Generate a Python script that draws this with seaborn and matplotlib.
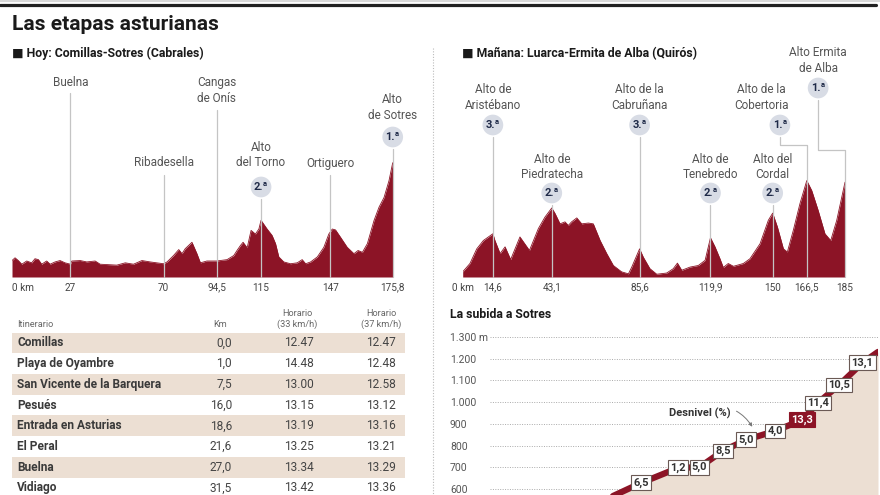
import matplotlib
matplotlib.use("Agg")
import matplotlib.pyplot as plt
import matplotlib.transforms as mtransforms
from matplotlib.lines import Line2D
from matplotlib import font_manager as fm
import seaborn as sns

# --- etapa de hoy: Comillas-Sotres (km, altitud m) ---
hoy_km = [0, 1.4, 2.9, 4.5, 6.8, 9.1, 10.6, 12.2, 13.7, 16.0,
          17.6, 19.9, 22.2, 24.5, 27.0, 27.6, 31.5, 34.5, 38.4, 40.7,
          48.4, 52.3, 56.1, 60.0, 63.8, 70.0, 71.6, 74.6, 77.0, 78.5,
          80.0, 83.1, 85.4, 87.0, 90.0, 94.5, 99.3, 102.4, 103.9, 105.5,
          106.7, 108.6, 110.4, 112.4, 114.0, 115.0, 117.8, 120.1, 121.7, 123.2,
          125.5, 128.6, 131.7, 134.0, 135.6, 137.9, 141.0, 144.0, 146.3, 147.9,
          149.4, 151.7, 154.8, 157.9, 159.8, 161.8, 164.1, 167.2, 169.5, 171.8,
          174.1, 175.8]
hoy_m = [180, 210, 180, 140, 175, 155, 200, 190, 140, 175,
         140, 165, 180, 155, 140, 175, 180, 165, 175, 140,
         130, 155, 140, 180, 165, 145, 165, 235, 300, 255,
         310, 380, 255, 155, 175, 175, 190, 235, 290, 345,
         380, 320, 510, 470, 525, 620, 525, 455, 365, 220,
         165, 145, 155, 190, 145, 165, 220, 325, 470, 525,
         515, 435, 325, 255, 290, 270, 365, 620, 765, 870,
         1055, 1250]
hoy_ticks = [0, 27, 70, 94.5, 115, 147, 175.8]
hoy_ticklabels = ['0 km', '27', '70', '94,5', '115', '147', '175,8']
hoy_puntos = ['Buelna', 'Ribadesella', 'Cangas\nde Onís', 'Alto\ndel Torno', 'Ortiguero', 'Alto\nde Sotres']
hoy_puntos_km = [27, 70, 94.5, 115, 147, 175.8]
hoy_categoria = [None, None, None, '2.ª', None, '1.ª']

# --- etapa de mañana: Luarca-Ermita de Alba ---
man_km = [0, 3.5, 6.8, 10.0, 14.6, 15.6, 18.1, 20.5, 23.2, 27.7,
          32.3, 36.6, 39.8, 43.1, 44.7, 47.1, 49.5, 51.1, 52.7, 55.2,
          57.6, 60.8, 63.2, 66.5, 69.7, 72.9, 76.9, 80.2, 81.8, 85.6,
          87.4, 90.6, 93.9, 98.7, 101.9, 103.9, 106.0, 110.0, 114.0, 117.3,
          119.9, 122.1, 124.5, 126.1, 128.5, 131.0, 135.8, 139.0, 143.9, 147.9,
          150.0, 152.3, 155.2, 157.1, 160.0, 163.2, 166.5, 168.9, 172.0, 175.3,
          178.1, 181.0, 185.0]
man_m = [65, 170, 355, 460, 545, 460, 295, 380, 220, 505,
         335, 610, 755, 870, 800, 670, 695, 650, 695, 745,
         670, 680, 670, 460, 295, 145, 65, 40, 125, 355,
         250, 105, 35, 50, 105, 175, 85, 125, 145, 210,
         495, 380, 230, 120, 170, 135, 170, 230, 420, 715,
         805, 630, 355, 315, 590, 925, 1215, 1090, 840, 545,
         460, 715, 1195]
man_ticks = [0, 14.6, 43.1, 85.6, 119.9, 150, 166.5, 185]
man_ticklabels = ['0 km', '14,6', '43,1', '85,6', '119,9', '150', '166,5', '185']
man_puntos = ['Alto de\nAristébano', 'Alto de\nPiedratecha', 'Alto de la\nCabruñana', 'Alto de\nTenebredo',
              'Alto del\nCordal', 'Alto de la\nCobertoria', 'Alto Ermita\nde Alba']
man_puntos_km = [14.6, 43.1, 85.6, 119.9, 150, 166.5, 185]
man_categoria = ['3.ª', '2.ª', '3.ª', '2.ª', '2.ª', '1.ª', '1.ª']

# --- horario ---
tabla_lugar = ['Comillas', 'Playa de Oyambre', 'San Vicente de la Barquera', 'Pesués',
               'Entrada en Asturias', 'El Peral', 'Buelna', 'Vidiago']
tabla_km = ['0,0', '1,0', '7,5', '16,0', '18,6', '21,6', '27,0', '31,5']
tabla_h33 = ['12.47', '14.48', '13.00', '13.15', '13.19', '13.25', '13.34', '13.42']
tabla_h37 = ['12.47', '12.48', '12.58', '13.12', '13.16', '13.21', '13.29', '13.36']

# --- la subida a Sotres ---
subida_km = [2.6, 3.9, 4.85, 5.4, 6.0, 6.6, 7.35, 8.05, 8.45, 9.0, 9.6, 10.0]
subida_m = [520, 628, 697, 700, 775, 826, 867, 918, 996, 1079, 1181, 1231]
subida_pct = [None, '6,5', '1,2', '5,0', '8,5', '5,0', '4,0', '13,3', '11,4', '10,5', '13,1', None]
subida_yticks = [600, 700, 800, 900, 1000, 1100, 1200, 1300]
subida_yticklabels = ['600', '700', '800', '900', '1.000', '1.100', '1.200', '1.300 m']

RED = '#8c1426'
BEIGE = '#ecdfd3'
GREY = '#555555'
BADGE = '#d8dce5'
NAVY = '#1f2a48'

sns.set_theme(style="white")
names = {f.name for f in fm.fontManager.ttflist}
FONT = 'Liberation Sans Narrow' if 'Liberation Sans Narrow' in names else 'Roboto'
plt.rcParams['font.family'] = [FONT, 'DejaVu Sans']

W, H = 880, 495
fig = plt.figure(figsize=(8.8, 4.95), dpi=100)
PX = mtransforms.Affine2D().scale(1 / W, -1 / H).translate(0, 1) + fig.transFigure


def px_axes(x0, y0, x1, y1):
    return fig.add_axes([x0 / W, 1 - y1 / H, (x1 - x0) / W, (y1 - y0) / H])


# header
fig.add_artist(Line2D([0, 880], [1, 1], transform=PX, color='#d9d9d9', lw=1.5))
fig.add_artist(Line2D([0, 876], [4.5, 4.5], transform=PX, color='#222222', lw=2.3))
fig.add_artist(Line2D([433, 433], [48, 495], transform=PX, color='#bbbbbb', lw=0.8, ls=(0, (1, 1.5))))
fig.text(12, 24, 'Las etapas asturianas', transform=PX, fontsize=15, fontweight='bold',
         color='#1a1a1a', va='center')
fig.text(12, 53, '■ Hoy: Comillas-Sotres (Cabrales)', transform=PX, fontsize=8.8,
         fontweight='bold', color='#1a1a1a', va='center')
fig.text(462, 54, '■ Mañana: Luarca-Ermita de Alba (Quirós)', transform=PX, fontsize=8.8,
         fontweight='bold', color='#1a1a1a', va='center')


def profile(ax, km, m, top, ticks, ticklabels):
    ax.fill_between(km, m, 0, color=RED, lw=0, zorder=2)
    sns.lineplot(x=km, y=m, ax=ax, color=RED, lw=0.6, zorder=2)
    ax.set_xlim(km[0], km[-1])
    ax.set_ylim(0, top)
    ax.set_xticks(ticks)
    ax.set_xticklabels(ticklabels)
    ax.set_yticks([])
    ax.set_xlabel('')
    ax.set_ylabel('')
    ax.tick_params(axis='x', length=0, pad=4, labelsize=7.2, labelcolor='#444444')
    sns.despine(ax=ax, left=True, bottom=True)
    ax.patch.set_alpha(0)
    return mtransforms.blended_transform_factory(ax.transData, PX)


def badge(ax, tr, x, y, txt):
    ax.text(x, y, txt, transform=tr, ha='center', va='center', fontsize=8, fontweight='bold',
            color=NAVY, clip_on=False, zorder=6,
            bbox=dict(boxstyle='circle,pad=0.28', fc=BADGE, ec='none'))


def label(ax, tr, x, y, txt):
    ax.text(x, y, txt, transform=tr, ha='center', va='center', fontsize=8.5, color=GREY,
            linespacing=1.25, clip_on=False, zorder=6)


def vline(ax, tr, xs, ys):
    ax.plot(xs, ys, transform=tr, color='#c4c4c4', lw=0.9, clip_on=False, zorder=4)


# left profile
BASE = 277
ax1 = px_axes(12, 160, 392.7, BASE)
tr1 = profile(ax1, hoy_km, hoy_m, 1280, hoy_ticks, hoy_ticklabels)
ax1.get_xticklabels()[0].set_ha('left')
hoy_label_y = [83, 163, 90.5, 155, 163, 107.5]
hoy_badge_y = [None, None, None, 187, None, 137]
hoy_line_top = [93, 175, 110, 199, 175, 149]
for k, txt, cat, ly, by, lt in zip(hoy_puntos_km, hoy_puntos, hoy_categoria,
                                   hoy_label_y, hoy_badge_y, hoy_line_top):
    label(ax1, tr1, k, ly, txt)
    if cat:
        badge(ax1, tr1, k, by, cat)
    vline(ax1, tr1, [k, k], [lt, BASE])

# right profile
ax2 = px_axes(462.7, 176, 845, BASE)
tr2 = profile(ax2, man_km, man_m, 1273, man_ticks, man_ticklabels)
man_label_y = [97.5, 167, 97.5, 167, 167, 97.5, 60.5]
man_badge_y = [125, 193, 125, 193, 193, 125, 88]
man_line_top = [137, 205, 137, 205, 205, 137, 100]
man_label_x = [None, None, None, None, None, 144.7, 172]
man_badge_x = [None, None, None, None, None, 153.5, 172]
man_elbow_y = [None, None, None, None, None, 145, 150]
for i, (k, txt, cat) in enumerate(zip(man_puntos_km, man_puntos, man_categoria)):
    lx = man_label_x[i] if man_label_x[i] is not None else k
    bx = man_badge_x[i] if man_badge_x[i] is not None else k
    label(ax2, tr2, lx, man_label_y[i], txt)
    badge(ax2, tr2, bx, man_badge_y[i], cat)
    if man_elbow_y[i] is None:
        vline(ax2, tr2, [k, k], [man_line_top[i], BASE])
    else:
        e = man_elbow_y[i]
        vline(ax2, tr2, [bx, bx, k, k], [man_line_top[i], e, e, BASE])

# table
ax4 = px_axes(12, 332.6, 405, 495)
ax4.set_xlim(0, 393)
ax4.set_ylim(7.34, -0.5)
ax4.axis('off')
ax4.barh([i for i in range(len(tabla_lugar)) if i % 2 == 0], 393, height=1, left=0,
         color=BEIGE, lw=0)
for i, (lug, km, h33, h37) in enumerate(zip(tabla_lugar, tabla_km, tabla_h33, tabla_h37)):
    ax4.text(5, i, lug, fontsize=8.6, fontweight='bold', color='#3a3a3a', va='center', clip_on=False)
    for x, v in ((220, km), (302, h33), (384, h37)):
        ax4.text(x, i, v, fontsize=8.6, color='#444444', va='center', ha='right', clip_on=False)
hdr = dict(fontsize=6.6, color='#666666', va='center', clip_on=False, linespacing=1.15)
ax4.text(5, -0.9, 'Itinerario', ha='left', **hdr)
ax4.text(215, -0.9, 'Km', ha='right', **hdr)
ax4.text(285, -1.15, 'Horario\n(33 km/h)', ha='center', **hdr)
ax4.text(369, -1.15, 'Horario\n(37 km/h)', ha='center', **hdr)

# climb
ax3 = px_axes(490, 330, 878, 495)
ax3.set_xlim(0, 10)
ax3.set_ylim(572, 1332)
ax3.set_axisbelow(True)
ax3.set_yticks(subida_yticks)
ax3.set_yticklabels(subida_yticklabels)
ax3.set_xticks([])
ax3.grid(axis='y', color='#aaaaaa', lw=0.7, ls=(0, (1, 1.5)))
sns.despine(ax=ax3, left=True, bottom=True)
ax3.tick_params(axis='y', length=0, pad=28.8, labelsize=7.5, labelcolor=GREY)
for t in ax3.get_yticklabels():
    t.set_ha('left')
ax3.fill_between(subida_km, subida_m, 0, color=BEIGE, lw=0, zorder=2)
sns.lineplot(x=subida_km, y=subida_m, ax=ax3, color=RED, lw=4.5, zorder=3)
for k, m, p in zip(subida_km, subida_m, subida_pct):
    if p is None:
        continue
    hot = p == '13,3'
    ax3.text(k, m, p, ha='center', va='center', fontsize=8, fontweight='bold',
             color='white' if hot else '#333333', zorder=5,
             bbox=dict(boxstyle='square,pad=0.2', fc=RED if hot else 'white',
                       ec=RED if hot else '#6b5a55', lw=0.8))
ax3.annotate('Desnivel (%)', xy=(6.78, 881), xytext=(5.41, 950), fontsize=8,
             fontweight='bold', color='#333333', ha='center', va='center', zorder=6,
             arrowprops=dict(arrowstyle='-|>', color='#777777', lw=0.7,
                             connectionstyle='arc3,rad=-0.45', shrinkA=2, shrinkB=1,
                             mutation_scale=5))
fig.text(450, 315, 'La subida a Sotres', transform=PX, fontsize=8.8, fontweight='bold',
         color='#1a1a1a', va='center')

fig.savefig('out.png', dpi=100)
